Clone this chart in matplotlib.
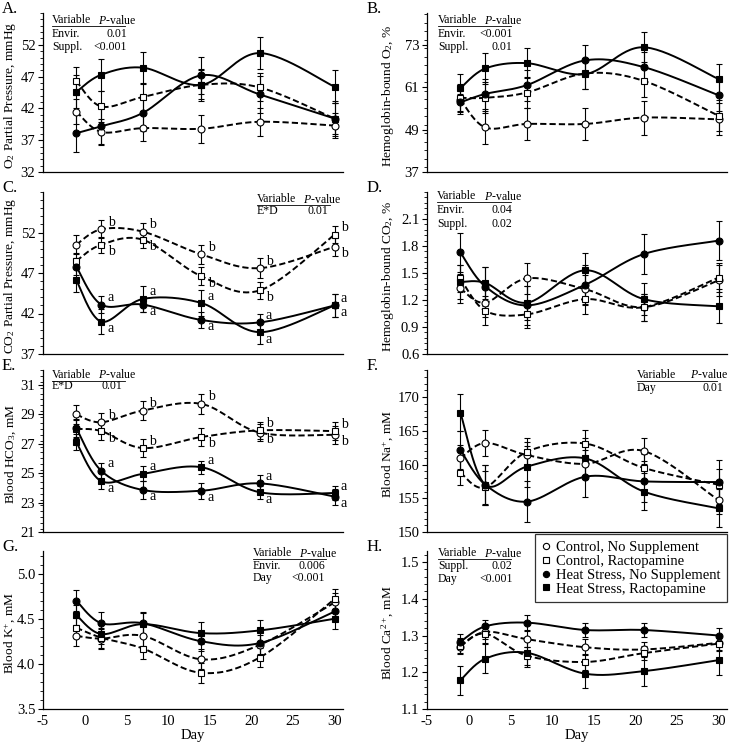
import numpy as np
import matplotlib
matplotlib.use('Agg')
import matplotlib.pyplot as plt
from matplotlib.lines import Line2D
from matplotlib.ticker import FixedLocator, MultipleLocator

plt.rcParams['font.family'] = ['Liberation Serif', 'DejaVu Serif']
plt.rcParams['mathtext.fontset'] = 'custom'
plt.rcParams['mathtext.rm'] = 'Liberation Serif'
plt.rcParams['mathtext.it'] = 'Liberation Serif:italic'
plt.rcParams['axes.unicode_minus'] = False

DAYS = [-1, 2, 7, 14, 21, 30]
SERIES = ['Control, No Supplement', 'Control, Ractopamine',
          'Heat Stress, No Supplement', 'Heat Stress, Ractopamine']

# A. O2 partial pressure
A_CN = [41.5, 38.3, 38.9, 38.8, 39.9, 39.3]
A_CR = [46.3, 42.3, 43.8, 45.7, 45.3, 40.4]
A_HN = [38.1, 39.2, 41.3, 47.2, 44.2, 40.4]
A_HR = [44.6, 47.3, 48.4, 45.7, 50.7, 45.4]
A_CN_SE = [2.0, 2.0, 2.1, 2.2, 2.2, 2.0]
A_CR_SE = [2.2, 2.4, 2.2, 2.3, 2.2, 2.4]
A_HN_SE = [3.0, 2.8, 2.8, 2.9, 2.9, 2.8]
A_HR_SE = [2.6, 2.5, 2.5, 2.5, 2.5, 2.6]

# B. hemoglobin-bound O2
B_CN = [57.5, 49.6, 50.6, 50.6, 52.4, 51.9]
B_CR = [58.0, 58.0, 59.5, 64.9, 62.8, 52.9]
B_HN = [56.7, 59.1, 61.6, 68.6, 66.7, 58.7]
B_HR = [60.7, 66.3, 67.8, 64.7, 72.3, 63.3]
B_CN_SE = [4.0, 4.6, 4.6, 4.6, 4.8, 4.5]
B_CR_SE = [4.0, 4.4, 4.4, 4.4, 4.5, 4.4]
B_HN_SE = [2.5, 4.3, 4.4, 4.4, 4.4, 4.3]
B_HR_SE = [4.0, 4.3, 4.3, 4.3, 4.3, 4.2]

# C. CO2 partial pressure
C_CN = [50.5, 52.4, 52.1, 49.3, 47.6, 50.25]
C_CR = [48.5, 50.5, 51.1, 46.6, 44.85, 51.75]
C_HN = [47.8, 43.1, 43.1, 41.2, 40.9, 43.0]
C_HR = [46.1, 41.0, 43.8, 43.3, 39.7, 43.0]
C_CN_SE = [1.2, 1.1, 1.1, 1.2, 1.2, 1.1]
C_CR_SE = [1.0, 1.0, 1.0, 1.1, 1.1, 1.1]
C_HN_SE = [1.0, 1.0, 0.9, 1.0, 1.0, 1.4]
C_HR_SE = [1.5, 1.5, 1.6, 1.6, 1.5, 1.4]
C_CN_LET = ['', 'b+', 'b+', 'b+', 'b+', 'b-']
C_CR_LET = ['', 'b-', 'b-', 'b-', 'b-', 'b+']
C_HN_LET = ['', 'a+', 'a-', 'a-', 'a+', 'a-']
C_HR_LET = ['', 'a-', 'a+', 'a+', 'a-', 'a+']

# D. hemoglobin-bound CO2
D_CN = [1.33, 1.17, 1.44, 1.32, 1.12, 1.42]
D_CR = [1.44, 1.08, 1.04, 1.21, 1.12, 1.45]
D_HN = [1.73, 1.35, 1.14, 1.37, 1.71, 1.86]
D_HR = [1.40, 1.39, 1.17, 1.53, 1.21, 1.13]
D_CN_SE = [0.16, 0.16, 0.17, 0.16, 0.15, 0.17]
D_CR_SE = [0.15, 0.16, 0.15, 0.16, 0.15, 0.16]
D_HN_SE = [0.22, 0.22, 0.22, 0.22, 0.22, 0.22]
D_HR_SE = [0.19, 0.18, 0.19, 0.19, 0.18, 0.19]

# E. blood HCO3
E_CN = [28.98, 28.45, 29.25, 29.7, 27.75, 27.6]
E_CR = [28.0, 27.85, 26.7, 27.45, 27.9, 27.85]
E_HN = [28.05, 25.15, 23.85, 23.8, 24.3, 23.4]
E_HR = [27.1, 24.45, 24.95, 25.4, 23.7, 23.65]
E_CN_SE = [0.65, 0.65, 0.65, 0.7, 0.6, 0.6]
E_CR_SE = [0.6, 0.6, 0.6, 0.6, 0.6, 0.6]
E_HN_SE = [0.6, 0.55, 0.6, 0.55, 0.55, 0.55]
E_HR_SE = [0.55, 0.55, 0.5, 0.45, 0.45, 0.5]
E_CN_LET = ['', 'b+', 'b+', 'b+', 'b-', 'b-']
E_CR_LET = ['', 'b-', 'b+', 'b-', 'b+', 'b+']
E_HN_LET = ['', 'a+', 'a-', 'a-', 'a+', 'a-']
E_HR_LET = ['', 'a-', 'a+', 'a+', 'a-', 'a+']

# F. blood Na+
F_CN = [160.9, 163.2, 161.4, 160.1, 162.0, 154.7]
F_CR = [158.8, 156.6, 161.9, 163.1, 159.5, 157.0]
F_HN = [162.2, 157.0, 154.5, 158.2, 157.5, 157.4]
F_HR = [167.7, 157.0, 159.7, 160.9, 156.0, 153.5]
F_CN_SE = [2.0, 1.9, 2.0, 2.0, 1.9, 2.0]
F_CR_SE = [1.9, 2.5, 2.0, 2.0, 2.0, 2.3]
F_HN_SE = [2.8, 3.0, 3.0, 3.0, 3.0, 3.2]
F_HR_SE = [2.8, 3.0, 3.0, 3.0, 2.7, 2.8]

# G. blood K+
G_CN = [4.31, 4.28, 4.31, 4.05, 4.21, 4.68]
G_CR = [4.40, 4.29, 4.17, 3.90, 4.07, 4.72]
G_HN = [4.70, 4.45, 4.45, 4.25, 4.23, 4.58]
G_HR = [4.54, 4.33, 4.44, 4.34, 4.37, 4.50]
G_CN_SE = [0.11, 0.11, 0.11, 0.11, 0.11, 0.11]
G_CR_SE = [0.11, 0.11, 0.12, 0.11, 0.11, 0.11]
G_HN_SE = [0.12, 0.12, 0.12, 0.11, 0.12, 0.11]
G_HR_SE = [0.11, 0.11, 0.12, 0.12, 0.12, 0.11]

# H. blood Ca2+
H_CN = [1.270, 1.310, 1.290, 1.268, 1.262, 1.280]
H_CR = [1.272, 1.305, 1.245, 1.228, 1.252, 1.278]
H_HN = [1.283, 1.325, 1.335, 1.315, 1.315, 1.300]
H_HR = [1.178, 1.237, 1.253, 1.196, 1.203, 1.233]
H_CN_SE = [0.02, 0.02, 0.022, 0.022, 0.02, 0.02]
H_CR_SE = [0.02, 0.025, 0.025, 0.022, 0.02, 0.02]
H_HN_SE = [0.02, 0.018, 0.02, 0.02, 0.02, 0.02]
H_HR_SE = [0.04, 0.04, 0.04, 0.04, 0.04, 0.04]


def smooth(x, y, n=30):
    # bezier smoothing through the points (Excel-style smoothed line)
    x = np.asarray(x, float)
    y = np.asarray(y, float)
    px = np.concatenate([[x[0]], x, [x[-1]]])
    py = np.concatenate([[y[0]], y, [y[-1]]])
    t = np.linspace(0, 1, n)
    xs, ys = [], []
    for i in range(len(x) - 1):
        p0 = np.array([px[i], py[i]])
        p1 = np.array([px[i + 1], py[i + 1]])
        p2 = np.array([px[i + 2], py[i + 2]])
        p3 = np.array([px[i + 3], py[i + 3]])
        c1 = p1 + (p2 - p0) / 6
        c2 = p2 - (p3 - p1) / 6
        b = (np.outer((1 - t) ** 3, p1) + np.outer(3 * (1 - t) ** 2 * t, c1)
             + np.outer(3 * (1 - t) * t ** 2, c2) + np.outer(t ** 3, p2))
        xs.extend(b[:, 0])
        ys.extend(b[:, 1])
    return xs, ys


STYLES = [
    dict(ls=(0, (3.2, 1.6)), marker='o', mfc='white'),
    dict(ls=(0, (3.2, 1.6)), marker='s', mfc='white'),
    dict(ls='-', marker='o', mfc='black'),
    dict(ls='-', marker='s', mfc='black'),
]

W, H = 729, 749
fig = plt.figure(figsize=(W / 100, H / 100), dpi=100)

cols = [43, 427]
rows = [(13, 172), (192, 354), (370, 532), (551, 709)]

panels = [
    ('A.', 0, 0, (32, 57), np.arange(32, 53, 5), 'O$_\\mathrm{2}$ Partial Pressure, mmHg', '%d',
     [A_CN, A_CR, A_HN, A_HR], [A_CN_SE, A_CR_SE, A_HN_SE, A_HR_SE], None,
     (0.03, 0.183, 0.28, 0.955, 0.085), [('Envir.', '0.01'), ('Suppl.', '<0.001')]),
    ('B.', 0, 1, (37, 82), np.arange(37, 74, 12), 'Hemoglobin-bound O$_\\mathrm{2}$, %', '%d',
     [B_CN, B_CR, B_HN, B_HR], [B_CN_SE, B_CR_SE, B_HN_SE, B_HR_SE], None,
     (0.037, 0.19, 0.285, 0.955, 0.085), [('Envir.', '<0.001'), ('Suppl.', '0.01')]),
    ('C.', 1, 0, (37, 57), np.arange(37, 53, 5), 'CO$_\\mathrm{2}$ Partial Pressure, mmHg', '%d',
     [C_CN, C_CR, C_HN, C_HR], [C_CN_SE, C_CR_SE, C_HN_SE, C_HR_SE],
     [C_CN_LET, C_CR_LET, C_HN_LET, C_HR_LET],
     (0.713, 0.866, 0.95, 0.955, 0.07), [('E*D', '0.01')]),
    ('D.', 1, 1, (0.6, 2.4), np.arange(0.6, 2.11, 0.3), 'Hemoglobin-bound CO$_\\mathrm{2}$, %', '%.1f',
     [D_CN, D_CR, D_HN, D_HR], [D_CN_SE, D_CR_SE, D_HN_SE, D_HR_SE], None,
     (0.033, 0.19, 0.285, 0.975, 0.085), [('Envir.', '0.04'), ('Suppl.', '0.02')]),
    ('E.', 2, 0, (21, 32), np.arange(21, 32, 2), 'Blood HCO$_\\mathrm{3}$, mM', '%d',
     [E_CN, E_CR, E_HN, E_HR], [E_CN_SE, E_CR_SE, E_HN_SE, E_HR_SE],
     [E_CN_LET, E_CR_LET, E_HN_LET, E_HR_LET],
     (0.03, 0.183, 0.265, 0.97, 0.07), [('E*D', '0.01')]),
    ('F.', 2, 1, (150, 174), np.arange(150, 171, 5), 'Blood Na$^{+}$, mM', '%d',
     [F_CN, F_CR, F_HN, F_HR], [F_CN_SE, F_CR_SE, F_HN_SE, F_HR_SE], None,
     (0.70, 0.877, 0.987, 0.97, 0.08), [('Day', '0.01')]),
    ('G.', 3, 0, (3.5, 5.25), np.arange(3.5, 5.01, 0.5), 'Blood K$^{+}$, mM', '%.1f',
     [G_CN, G_CR, G_HN, G_HR], [G_CN_SE, G_CR_SE, G_HN_SE, G_HR_SE], None,
     (0.70, 0.853, 0.94, 0.985, 0.078), [('Envir.', '0.006'), ('Day', '<0.001')]),
    ('H.', 3, 1, (1.1, 1.53), np.arange(1.1, 1.51, 0.1), 'Blood Ca$^{2+}$, mM', '%.1f',
     [H_CN, H_CR, H_HN, H_HR], [H_CN_SE, H_CR_SE, H_HN_SE, H_HR_SE], None,
     (0.037, 0.19, 0.285, 0.985, 0.082), [('Suppl.', '0.02'), ('Day', '<0.001')]),
]

for (tag, r, c, ylim, ticks, ylabel, fmt, vals, ses, lets, tpos, trows) in panels:
    top, bot = rows[r]
    left = cols[c]
    ax = fig.add_axes([left / W, 1 - bot / H, 300 / W, (bot - top) / H])
    for v, se, st in zip(vals, ses, STYLES):
        ax.errorbar(DAYS, v, yerr=se, fmt='none', ecolor='black', elinewidth=0.8,
                    capsize=2.4, capthick=0.8, zorder=2)
        sx, sy = smooth(DAYS, v)
        ax.plot(sx, sy, color='black', lw=1.4, ls=st['ls'], zorder=3)
        ax.plot(DAYS, v, ls='none', marker=st['marker'], mfc=st['mfc'], mec='black',
                mew=0.8, ms=5, zorder=4)
    if lets is not None:
        for v, lt in zip(vals, lets):
            for d, y, s in zip(DAYS, v, lt):
                if not s:
                    continue
                dy = 5 if s[1] == '+' else -5
                ax.annotate(s[0], (d, y), xytext=(4.5, dy), textcoords='offset points',
                            ha='left', va='center', fontsize=10)
    ax.set_xlim(-5, 31)
    ax.set_ylim(*ylim)
    ax.yaxis.set_major_locator(FixedLocator(ticks))
    step = ticks[1] - ticks[0]
    ax.yaxis.set_minor_locator(MultipleLocator(step / 5))
    ax.set_yticklabels([fmt % t for t in ticks])
    ax.tick_params(axis='y', which='major', direction='out', length=3.5, width=0.8,
                   labelsize=10.5, pad=2)
    ax.tick_params(axis='y', which='minor', direction='out', length=2, width=0.6)
    for s in ['top', 'right']:
        ax.spines[s].set_visible(False)
    ax.spines['left'].set_linewidth(0.9)
    ax.spines['bottom'].set_linewidth(0.9)
    if r == 3:
        ax.set_xticks(np.arange(-5, 31, 5))
        ax.tick_params(axis='x', length=0, labelsize=10.5, pad=4)
        ax.set_xlabel('Day', fontsize=10.5, labelpad=1)
    else:
        ax.set_xticks([])
    ax.set_ylabel(ylabel, fontsize=9.6)
    ax.yaxis.set_label_coords(-0.083 if c == 0 else -0.103, 0.48)
    fig.text((2 if c == 0 else 367) / W, 1 - (top - 4) / H, tag, fontsize=12,
             ha='left', va='center')

    # P-value table
    x0, xp, xv, y0, dy = tpos
    ax.text(x0, y0, 'Variable', transform=ax.transAxes, fontsize=8.5, va='center')
    ax.text(xp, y0, '$\\mathit{P}$-value', transform=ax.transAxes, fontsize=8.5, va='center')
    ax.plot([x0, xp + 0.09], [y0 - 0.038] * 2, transform=ax.transAxes, color='black',
            lw=0.6, clip_on=False)
    for i, (name, pv) in enumerate(trows):
        yy = y0 - dy * (i + 1)
        ax.text(x0, yy, name, transform=ax.transAxes, fontsize=8.5, va='center')
        ax.text(xv, yy, pv, transform=ax.transAxes, fontsize=8.5, va='center', ha='right')

handles = [Line2D([], [], ls='none', marker=st['marker'], mfc=st['mfc'], mec='black',
                  mew=0.8, ms=4.5) for st in STYLES]
leg = fig.legend(handles, SERIES, loc='upper right', bbox_to_anchor=(727 / W, 1 - 534 / H),
                 fontsize=10.5, frameon=True, fancybox=False, edgecolor='black',
                 handlelength=0.6, handletextpad=0.4, labelspacing=0.05,
                 borderpad=0.45, borderaxespad=0)
leg.get_frame().set_linewidth(0.9)

fig.savefig('out.png', dpi=100)
